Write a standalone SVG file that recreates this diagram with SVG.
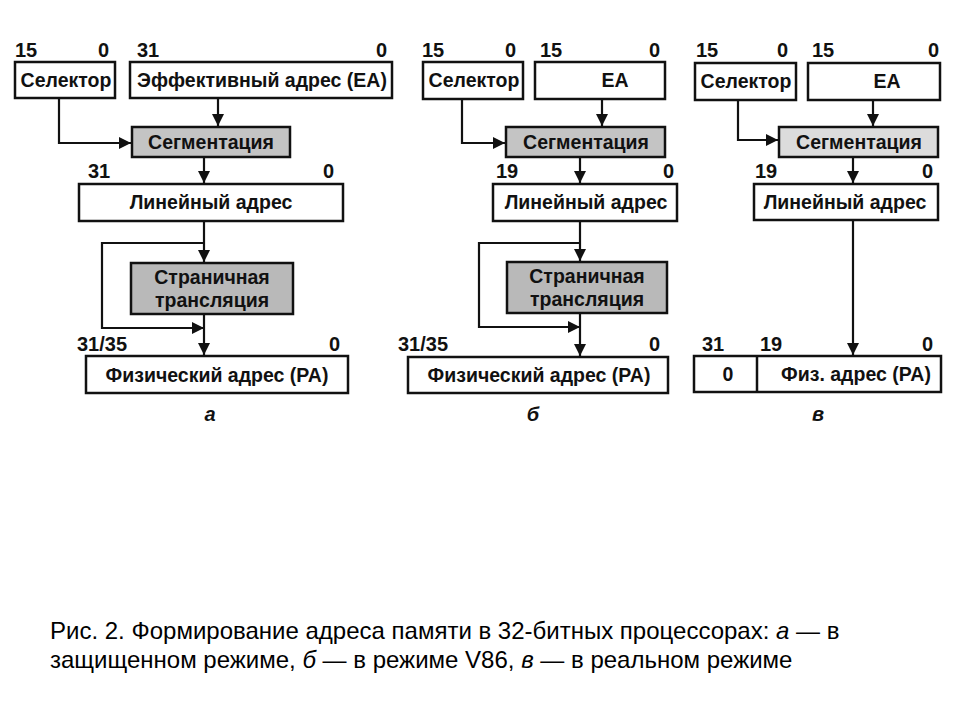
<svg xmlns="http://www.w3.org/2000/svg" width="960" height="720" viewBox="0 0 960 720">
<defs>
<marker id="arr" markerUnits="userSpaceOnUse" markerWidth="12" markerHeight="12" viewBox="0 0 12 12" refX="12" refY="6" orient="auto">
<path d="M0,0 L12,6 L0,12 Z" fill="#111"/>
</marker>
<style>
.box{fill:#fff;stroke:#111;stroke-width:2.5}
.seg{fill:#c4c4c4;stroke:#111;stroke-width:2.5}
.segl{fill:#dcdcdc;stroke:#111;stroke-width:2.5}
.pg{fill:#b9b9b9;stroke:#111;stroke-width:2.5}
.t{font-family:"Liberation Sans",Arial,sans-serif;font-size:19.5px;font-weight:bold;fill:#111;text-anchor:middle}
.n{font-family:"Liberation Sans",Arial,sans-serif;font-size:20px;font-weight:bold;fill:#111}
.e{text-anchor:end}
.lab{font-family:"Liberation Sans",Arial,sans-serif;font-size:20px;font-weight:bold;font-style:italic;fill:#111;text-anchor:middle}
.ln{fill:none;stroke:#111;stroke-width:2.2}
.cap{font-family:"Liberation Sans",Arial,sans-serif;font-size:24px;fill:#000}
</style>
</defs>
<rect width="960" height="720" fill="#fff"/>

<!-- Panel a -->
<g id="a-labels">
<text class="n" x="15" y="57">15</text><text class="n e" x="109" y="57">0</text>
<text class="n" x="137" y="57">31</text><text class="n e" x="387" y="57">0</text>
<text class="n" x="88" y="178">31</text><text class="n e" x="334" y="178">0</text>
<text class="n" x="77" y="351">31/35</text><text class="n e" x="340" y="351">0</text>
<text class="lab" x="210" y="421">а</text>
</g>
<g id="a-selector"><rect class="box" x="15" y="62" width="100" height="36"/><text class="t" x="66" y="87">Селектор</text></g>
<g id="a-ea"><rect class="box" x="130" y="62" width="262" height="36"/><text class="t" x="262" y="87">Эффективный адрес (EA)</text></g>
<g id="a-seg"><rect class="seg" x="132" y="127" width="158" height="30"/><text class="t" x="211" y="149">Сегментация</text></g>
<g id="a-lin"><rect class="box" x="79" y="184" width="264" height="37"/><text class="t" x="211" y="209">Линейный адрес</text></g>
<g id="a-page"><rect class="pg" x="131" y="263" width="162" height="51"/><text class="t" x="212" y="284">Страничная</text><text class="t" x="212" y="307">трансляция</text></g>
<g id="a-phys"><rect class="box" x="86" y="356" width="262" height="37"/><text class="t" x="217" y="382">Физический адрес (PA)</text></g>

<!-- Panel b -->
<g id="b-labels">
<text class="n" x="422" y="57">15</text><text class="n e" x="516" y="57">0</text>
<text class="n" x="540" y="57">15</text><text class="n e" x="660" y="57">0</text>
<text class="n" x="496" y="178">19</text><text class="n e" x="674" y="178">0</text>
<text class="n" x="398" y="351">31/35</text><text class="n e" x="660" y="351">0</text>
<text class="lab" x="533" y="421">б</text>
</g>
<g id="b-selector"><rect class="box" x="423" y="62" width="100" height="37"/><text class="t" x="474" y="87">Селектор</text></g>
<g id="b-ea"><rect class="box" x="535" y="62" width="130" height="37"/><text class="t" x="615" y="87">EA</text></g>
<g id="b-seg"><rect class="seg" x="506" y="127" width="159" height="30"/><text class="t" x="586" y="149">Сегментация</text></g>
<g id="b-lin"><rect class="box" x="493" y="184" width="184" height="37"/><text class="t" x="586" y="209">Линейный адрес</text></g>
<g id="b-page"><rect class="pg" x="507" y="262" width="160" height="51"/><text class="t" x="587" y="283">Страничная</text><text class="t" x="587" y="306">трансляция</text></g>
<g id="b-phys"><rect class="box" x="408" y="357" width="260" height="36"/><text class="t" x="539" y="382">Физический адрес (PA)</text></g>

<!-- Panel c -->
<g id="c-labels">
<text class="n" x="696" y="57">15</text><text class="n e" x="788" y="57">0</text>
<text class="n" x="812" y="57">15</text><text class="n e" x="939" y="57">0</text>
<text class="n" x="755" y="178">19</text><text class="n e" x="933" y="178">0</text>
<text class="n" x="702" y="351">31</text><text class="n" x="760" y="351">19</text><text class="n e" x="933" y="351">0</text>
<text class="lab" x="818" y="421">в</text>
</g>
<g id="c-selector"><rect class="box" x="695" y="63" width="101" height="37"/><text class="t" x="746" y="88">Селектор</text></g>
<g id="c-ea"><rect class="box" x="808" y="63" width="132" height="37"/><text class="t" x="887" y="88">EA</text></g>
<g id="c-seg"><rect class="segl" x="779" y="127" width="159" height="30"/><text class="t" x="859" y="149">Сегментация</text></g>
<g id="c-lin"><rect class="box" x="754" y="184" width="184" height="36"/><text class="t" x="845" y="209">Линейный адрес</text></g>
<g id="c-phys"><rect class="box" x="694" y="356" width="247" height="36"/><line x1="757" y1="356" x2="757" y2="392" stroke="#111" stroke-width="2.5"/><text class="t" x="728" y="381">0</text><text class="t" x="856" y="381">Физ. адрес (PA)</text></g>

<!-- Connectors -->
<g id="connectors">
<path class="ln" d="M59 98 V143 H131" marker-end="url(#arr)"/>
<path class="ln" d="M218 98 V126" marker-end="url(#arr)"/>
<path class="ln" d="M204 157 V183" marker-end="url(#arr)"/>
<path class="ln" d="M204 221 V262" marker-end="url(#arr)"/>
<path class="ln" d="M204 243 H102 V328 H204" marker-end="url(#arr)"/>
<path class="ln" d="M204 314 V355" marker-end="url(#arr)"/>

<path class="ln" d="M462 99 V143 H505" marker-end="url(#arr)"/>
<path class="ln" d="M602 99 V126" marker-end="url(#arr)"/>
<path class="ln" d="M580 157 V183" marker-end="url(#arr)"/>
<path class="ln" d="M580 221 V261" marker-end="url(#arr)"/>
<path class="ln" d="M580 243 H479 V327 H580" marker-end="url(#arr)"/>
<path class="ln" d="M580 313 V356" marker-end="url(#arr)"/>

<path class="ln" d="M738 100 V140 H778" marker-end="url(#arr)"/>
<path class="ln" d="M873 100 V126" marker-end="url(#arr)"/>
<path class="ln" d="M853 157 V183" marker-end="url(#arr)"/>
<path class="ln" d="M853 220 V355" marker-end="url(#arr)"/>
</g>

<g id="caption">
<text class="cap" x="50" y="639">Рис. 2. Формирование адреса памяти в 32-битных процессорах: <tspan font-style="italic">а</tspan> — в</text>
<text class="cap" x="50" y="668">защищенном режиме, <tspan font-style="italic">б</tspan> — в режиме V86, <tspan font-style="italic">в</tspan> — в реальном режиме</text>
</g>
</svg>
